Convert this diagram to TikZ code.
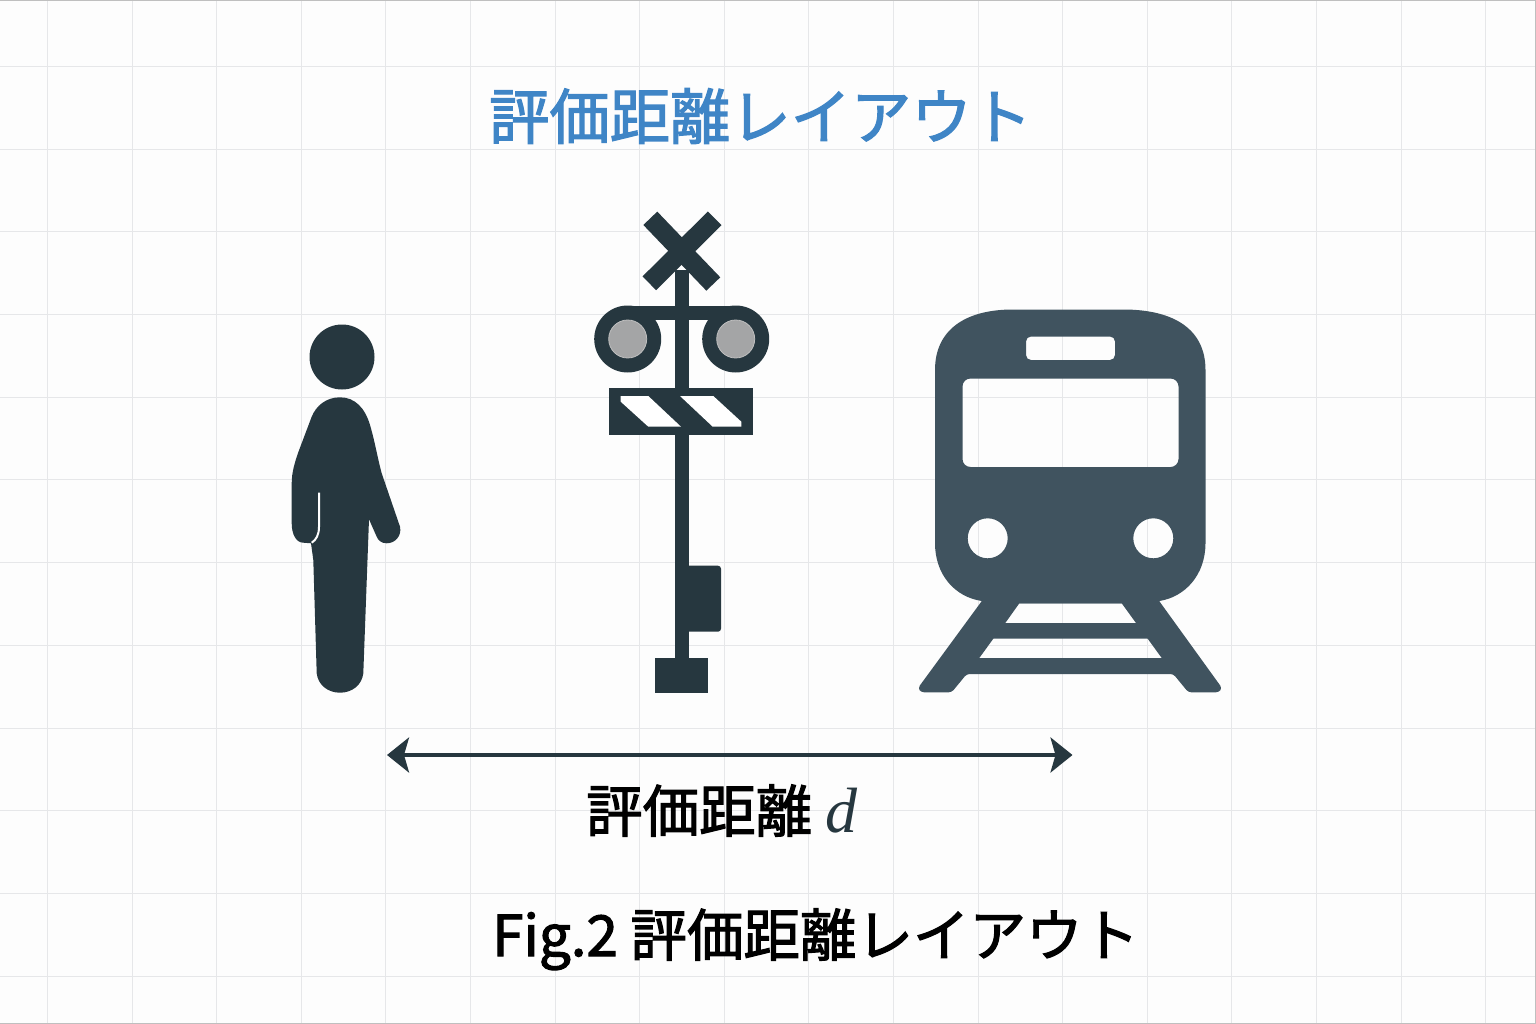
\documentclass[tikz,border=0pt]{standalone}
\usepackage{fontspec}
\usetikzlibrary{arrows.meta}
\newfontfamily\jpfont[FakeBold=2]{Noto Sans CJK JP}
\newfontfamily\dfont{Liberation Serif}
\definecolor{paper}{HTML}{FDFDFD}
\definecolor{gridgray}{HTML}{E6E7E9}
\definecolor{titleblue}{HTML}{3F85C6}
\definecolor{slate}{HTML}{26373F}
\definecolor{trainblue}{HTML}{40535F}
\definecolor{lampgray}{HTML}{A4A5A6}
\tikzset{
  gridline/.style={gridgray, line width=1pt},
  figure/.style={fill=slate},
  trainpart/.style={fill=trainblue, even odd rule},
  stripe/.style={fill=white},
  lamp/.style={fill=lampgray, draw=lightgray, line width=.8pt},
  jptext/.style={inner sep=0pt, anchor=base west, font=\jpfont},
  distarrow/.style={slate, line width=4pt, {Stealth[length=22pt,width=35pt,inset=5pt]}-{Stealth[length=22pt,width=35pt,inset=5pt]}}
}
\begin{document}
\begin{tikzpicture}[x=1pt,y=-1pt]
\useasboundingbox (0,0) rectangle (1536,1024);
\fill[paper] (0,0) rectangle (1536,1024);
\foreach \i in {0,...,17} {
  \pgfmathsetmacro\gx{floor(47.5+84.6*\i)+.5}
  \draw[gridline] (\gx,0)--(\gx,1024);
}
\foreach \j in {0,...,11} {
  \pgfmathsetmacro\gy{floor(66.5+82.7*\j)+.5}
  \draw[gridline] (0,\gy)--(1536,\gy);
}
\draw[gridline, lightgray] (0,.5)--(1535.5,.5)--(1535.5,1023.5)--(0,1023.5);

\node[jptext, text=titleblue] (title) at (489,139) {\fontsize{60.3}{61}\selectfont 評価距離レイアウト};

% person
\fill[figure] (342,357) circle[radius=32.5pt];
\fill[figure] (340,397.3) .. controls (355,397.3) and (365,408) .. (370,425)
  .. controls (375,442) and (378,460) .. (381.7,473.3) -- (400,526.7)
  .. controls (402,536) and (395,543.3) .. (386.7,543.3)
  .. controls (381,543.3) and (378,540) .. (376.7,536.7) -- (369,519.3)
  -- (363.3,673.3) .. controls (362,685) and (352,692.7) .. (340,692.7)
  .. controls (328,692.7) and (318,685) .. (316.7,673.3) -- (313.3,560) -- (311,543.3)
  -- (303.3,542.7) .. controls (296,542.7) and (291.7,534) .. (291.7,523.3) -- (291.7,483.3)
  .. controls (291.7,472) and (295,462) .. (298,453) -- (311.7,416.7)
  .. controls (316,406) and (326,397.3) .. (340,397.3) -- cycle;
\draw[white, line width=2pt] (319,492.7)--(319,526.7) .. controls (319,535) and (316,540) .. (311.7,542.7);

% crossing signal
\fill[figure] (675,270) rectangle (689,660);
\draw[slate, line width=19.3pt] (650.3,218.3)--(713.3,284);
\draw[slate, line width=19.3pt] (714.7,218.3)--(649.3,283.3);
\fill[figure] (628,305.5) rectangle (736,320);
\fill[figure] (627.7,339) circle[radius=33.5pt];
\fill[figure] (735.7,339) circle[radius=33.5pt];
\draw[lamp] (627.7,339) circle[radius=19pt];
\draw[lamp] (735.7,339) circle[radius=19pt];
\fill[figure] (609.3,388.3) rectangle (753,435);
\fill[stripe] (620.7,396)--(648.3,396)--(681,426.7)--(648.3,426.7)--(620.7,401.7)--cycle;
\fill[stripe] (680,396)--(713.3,396)--(741.3,421.7)--(741.3,426.7)--(712.7,426.7)--cycle;
\fill[figure, rounded corners=3pt] (682,565.7) rectangle (721,631.7);
\fill[figure] (655,657.7) rectangle (707.7,692.7);

% train
\fill[trainpart] (935,370) .. controls (935,330) and (965,309.5) .. (1013,309.5) -- (1123,309.5)
  .. controls (1175,309.5) and (1205.5,330) .. (1205.5,370) -- (1205.5,543)
  .. controls (1205.5,575) and (1185,597) .. (1159.3,601) -- (1159,603.3) -- (982,603.3) -- (981.7,601)
  .. controls (955,597) and (935,575) .. (935,543) -- cycle
  [rounded corners=8pt] (962.5,378.5) rectangle (1178.5,467) [sharp corners]
  [rounded corners=5pt] (1026,336.5) rectangle (1115,360) [sharp corners]
  (987.7,538.3) circle[radius=20pt] (1153.3,538.3) circle[radius=20pt];
\fill[trainpart] [rounded corners=3pt] (984,598) -- (918,688) -- (921,692.3) -- (951.7,692.3) -- (966.7,674) -- (1173.3,674)
  -- (1188.3,692.3) -- (1219,692.3) -- (1222,688) -- (1157,598) -- cycle [sharp corners]
  (1019.3,603.3) -- (1121.7,603.3) -- (1136,623) -- (1005.3,623) -- cycle
  (993.3,638.7) -- (1147.7,638.7) -- (1161.7,658) -- (979.3,658) -- cycle;

% distance
\coordinate (distL) at (387,755);
\coordinate (distR) at (1072.5,755);
\draw[distarrow] (distL)--(distR);
\node[jptext] (dlabel) at (586,832) {\fontsize{56.5}{57}\selectfont 評価距離};
\node[inner sep=0pt, anchor=base west, text=slate, font=\dfont\itshape] (dsym) at (825,832) {\fontsize{64}{64}\selectfont d};

\node[jptext] (caption) at (492,956) {\fontsize{56.5}{57}\selectfont Fig.2 評価距離レイアウト};
\end{tikzpicture}
\end{document}
